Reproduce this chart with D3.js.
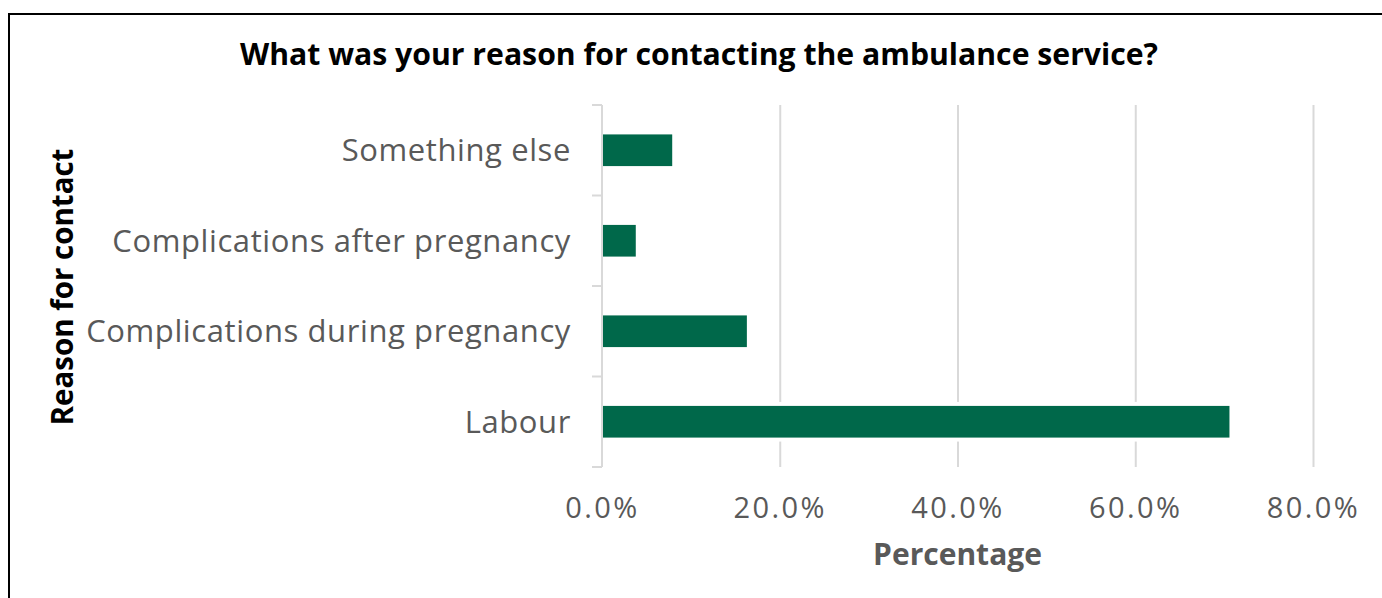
<!DOCTYPE html>
<html>
<head>
<meta charset="utf-8">
<script src="https://cdn.jsdelivr.net/npm/d3@7"></script>
<style>
	body { margin: 0; background: #fff; }
	svg { display: block; font-family: 'Open Sans', 'Noto Sans', sans-serif; }
	.grid line { stroke: #d9d9d9; stroke-width: 2; }
	.ylab text { fill: #595959; font-size: 31px; letter-spacing: 0.6px; }
	.xlab .tick text { fill: #595959; font-size: 29px; letter-spacing: 2.4px; }
</style>
</head>
<body>
<svg></svg>
<script>
const categories = ['Labour', 'Complications during pregnancy', 'Complications after pregnancy', 'Something else'];
const values = [70.6, 16.3, 3.8, 7.9];
const xTicks = [0, 20, 40, 60, 80];

const width = 1382;
const height = 598;
const margin = { top: 105, right: 69, bottom: 131, left: 602 };
const innerWidth = width - margin.left - margin.right;
const innerHeight = height - margin.top - margin.bottom;

const data = categories.map((c, i) => ({ c, v: values[i] }));

const svg = d3.select('svg')
	.attr('width', width)
	.attr('height', height);

// outer frame (runs off the right and bottom edges)
svg.append('rect')
	.attr('x', 9)
	.attr('y', 14)
	.attr('width', 1400)
	.attr('height', 620)
	.attr('fill', 'none')
	.attr('stroke', '#000')
	.attr('stroke-width', 2);

svg.append('text')
	.attr('x', 699)
	.attr('y', 65)
	.attr('text-anchor', 'middle')
	.attr('font-weight', 'bold')
	.attr('font-size', 30.2)
	.attr('fill', '#000')
	.text('What was your reason for contacting the ambulance service?');

const xScale = d3.scaleLinear()
	.domain([0, 80])
	.range([0, innerWidth]);

const yScale = d3.scaleBand()
	.domain(categories.slice().reverse())
	.range([0, innerHeight])
	.paddingInner(0.65)
	.paddingOuter(0.325);

const g = svg.append('g')
	.attr('transform', `translate(${margin.left},${margin.top})`);

const grid = g.append('g')
	.attr('class', 'grid')
	.attr('transform', `translate(0, ${innerHeight})`)
	.call(d3.axisBottom(xScale).tickValues(xTicks.slice(1)).tickSize(-innerHeight).tickFormat(''));
grid.select('.domain').remove();

// y axis line with ticks at band edges
const step = yScale.step();
const edges = d3.range(categories.length + 1).map(i => i * step);
g.append('line')
	.attr('x1', 0).attr('x2', 0)
	.attr('y1', 0).attr('y2', innerHeight)
	.attr('stroke', '#d9d9d9').attr('stroke-width', 2);
g.selectAll('.ytick')
	.data(edges)
	.join('line')
	.attr('class', 'ytick')
	.attr('x1', -10).attr('x2', 0)
	.attr('y1', d => d).attr('y2', d => d)
	.attr('stroke', '#d9d9d9').attr('stroke-width', 2);

// white halo behind bars to break the gridlines
g.selectAll('.halo')
	.data(data)
	.join('rect')
	.attr('class', 'halo')
	.attr('x', 2)
	.attr('y', d => yScale(d.c) - 4)
	.attr('width', d => xScale(d.v))
	.attr('height', yScale.bandwidth() + 8)
	.attr('fill', '#fff');

g.selectAll('.bar')
	.data(data)
	.join('rect')
	.attr('class', 'bar')
	.attr('x', 1)
	.attr('y', d => yScale(d.c))
	.attr('width', d => xScale(d.v) - 1)
	.attr('height', yScale.bandwidth())
	.attr('fill', '#00684a');

const yAxisGroup = g.append('g')
	.attr('class', 'ylab')
	.call(d3.axisLeft(yScale).tickSize(0).tickPadding(31))
	.attr('font-family', null)
	.attr('font-size', null);
yAxisGroup.select('.domain').remove();
yAxisGroup.selectAll('text').attr('dy', '0.36em');

const xAxisGroup = g.append('g')
	.attr('class', 'xlab')
	.attr('transform', `translate(0, ${innerHeight})`)
	.call(d3.axisBottom(xScale).tickValues(xTicks).tickSize(0).tickPadding(30).tickFormat(d => d.toFixed(1) + '%'))
	.attr('font-family', null)
	.attr('font-size', null);
xAxisGroup.select('.domain').remove();

xAxisGroup.append('text')
	.attr('x', xScale(40))
	.attr('y', 98)
	.attr('text-anchor', 'middle')
	.attr('font-weight', 'bold')
	.attr('font-size', 30)
	.attr('fill', '#595959')
	.text('Percentage');

svg.append('text')
	.attr('transform', 'rotate(-90)')
	.attr('x', -287)
	.attr('y', 73)
	.attr('text-anchor', 'middle')
	.attr('font-weight', 'bold')
	.attr('font-size', 29.5)
	.attr('fill', '#000')
	.text('Reason for contact');
</script>
</body>
</html>
